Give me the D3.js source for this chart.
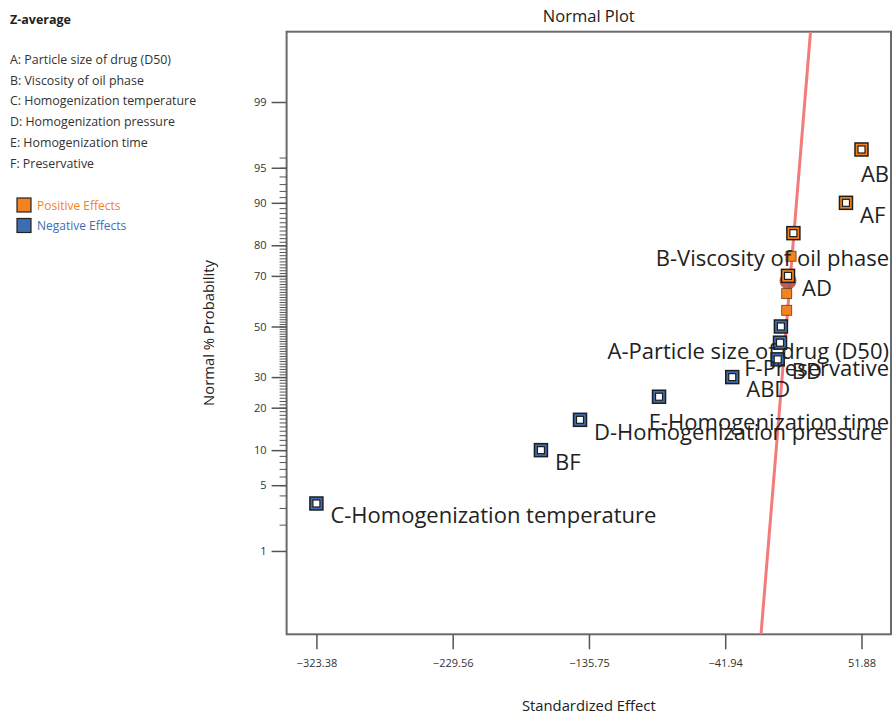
<!DOCTYPE html>
<html>
<head>
<meta charset="utf-8">
<script src="https://cdn.jsdelivr.net/npm/d3@7"></script>
<style>
  body { margin: 0; background: #fff; }
  text { font-family: "Open Sans", "Noto Sans", sans-serif; }
</style>
</head>
<body>
<script>
// effect terms, sorted by standardized effect
const termLabels = ['C-Homogenization temperature', 'BF', 'D-Homogenization pressure', 'E-Homogenization time',
  'ABD', 'BD', 'F-Preservative', 'A-Particle size of drug (D50)', '', '', 'AD', '', 'B-Viscosity of oil phase', 'AF', 'AB'];
const effects = [-323.38, -168.8, -141.9, -87.5, -37.1, -5.8, -4.2, -3.6, 0.4, 0.4, 1.3, 3.4, 5.0, 41.2, 51.88];
const probs = [3.33, 10, 16.67, 23.33, 30, 36.67, 43.33, 50, 56.67, 63.33, 70, 76.67, 83.33, 90, 96.67];
const highlightTerm = 'AD';

const xTicks = [-323.38, -229.56, -135.75, -41.94, 51.88];
const yTicks = [1, 5, 10, 20, 30, 50, 70, 80, 90, 95, 99];

// normal line: effect = fitIntercept + fitSlope * z
const fitIntercept = 0.12;
const fitSlope = 5.46;

const responseName = 'Z-average';
const factors = ['A: Particle size of drug (D50)', 'B: Viscosity of oil phase', 'C: Homogenization temperature',
  'D: Homogenization pressure', 'E: Homogenization time', 'F: Preservative'];
const legendItems = ['Positive Effects', 'Negative Effects'];

const w = 892, h = 714;
const plot = { left: 286.6, right: 891, top: 31.7, bottom: 634.3 };
const orange = '#f5821f', blue = '#3f6db4';

// inverse normal cdf (Acklam)
function probit(p) {
  const a = [-39.69683028665376, 220.9460984245205, -275.9285104469687, 138.3577518672690, -30.66479806614716, 2.506628277459239];
  const b = [-54.47609879822406, 161.5858368580409, -155.6989798598866, 66.80131188771972, -13.28068155288572];
  const c = [-0.007784894002430293, -0.3223964580411365, -2.400758277161838, -2.549732539343734, 4.374664141464968, 2.938163982698783];
  const d = [0.007784695709041462, 0.3224671290700398, 2.445134137142996, 3.754408661907416];
  const pl = 0.02425;
  let q, r;
  if (p < pl) {
    q = Math.sqrt(-2 * Math.log(p));
    return (((((c[0]*q+c[1])*q+c[2])*q+c[3])*q+c[4])*q+c[5]) / ((((d[0]*q+d[1])*q+d[2])*q+d[3])*q+1);
  } else if (p <= 1 - pl) {
    q = p - 0.5; r = q * q;
    return (((((a[0]*r+a[1])*r+a[2])*r+a[3])*r+a[4])*r+a[5])*q / (((((b[0]*r+b[1])*r+b[2])*r+b[3])*r+b[4])*r+1);
  } else {
    q = Math.sqrt(-2 * Math.log(1 - p));
    return -(((((c[0]*q+c[1])*q+c[2])*q+c[3])*q+c[4])*q+c[5]) / ((((d[0]*q+d[1])*q+d[2])*q+d[3])*q+1);
  }
}

const x = d3.scaleLinear().domain([-343.9, 72.2]).range([plot.left, plot.right]);
const yZ = d3.scaleLinear().domain([-3.19, 3.055]).range([plot.bottom, plot.top]);
const yP = p => yZ(probit(p / 100));

const svg = d3.select('body').append('svg')
  .attr('width', w)
  .attr('height', h);

// side panel
svg.append('text')
  .attr('x', 10).attr('y', 24)
  .attr('font-size', '12.5px').attr('font-weight', 'bold').attr('fill', '#222')
  .text(responseName);

svg.selectAll('.factor')
  .data(factors)
  .enter()
  .append('text')
  .attr('class', 'factor')
  .attr('x', 10)
  .attr('y', (_, i) => 64 + i * 20.7)
  .attr('font-size', '12.4px')
  .attr('fill', '#333')
  .text(d => d);

const leg = svg.selectAll('.leg')
  .data(legendItems)
  .enter()
  .append('g')
  .attr('class', 'leg')
  .attr('transform', (_, i) => `translate(17, ${198 + i * 20.5})`);
leg.append('rect')
  .attr('width', 14).attr('height', 14)
  .attr('fill', (_, i) => i === 0 ? orange : blue)
  .attr('stroke', '#222').attr('stroke-width', 1.2);
leg.append('text')
  .attr('x', 20).attr('y', 11.5)
  .attr('font-size', '12px')
  .attr('fill', (_, i) => i === 0 ? orange : blue)
  .text(d => d);

// title
svg.append('text')
  .attr('x', (plot.left + plot.right) / 2).attr('y', 22)
  .attr('text-anchor', 'middle')
  .attr('font-size', '16.5px').attr('fill', '#222')
  .text('Normal Plot');

// plot frame
svg.append('rect')
  .attr('x', plot.left).attr('y', plot.top)
  .attr('width', plot.right - plot.left).attr('height', plot.bottom - plot.top)
  .attr('fill', 'none').attr('stroke', '#6a6a6a').attr('stroke-width', 2);

// x axis
const xAxis = d3.axisBottom(x)
  .tickValues(xTicks)
  .tickFormat(d3.format('.2f'))
  .tickSize(15)
  .tickPadding(10);
const gx = svg.append('g')
  .attr('transform', `translate(0, ${plot.bottom})`)
  .call(xAxis);
gx.select('.domain').remove();
gx.selectAll('line').attr('stroke', '#555').attr('stroke-width', 1.5);
gx.selectAll('text').attr('font-size', '11px').attr('fill', '#333');

// y axis (normal probability)
const gyMinor = svg.append('g')
  .attr('transform', `translate(${plot.left}, 0)`)
  .call(d3.axisLeft(yZ)
    .tickValues(d3.range(2, 97).map(p => probit(p / 100)))
    .tickFormat('')
    .tickSize(7));
gyMinor.select('.domain').remove();
gyMinor.selectAll('line').attr('stroke', '#555').attr('stroke-width', 1);

const gy = svg.append('g')
  .attr('transform', `translate(${plot.left}, 0)`)
  .call(d3.axisLeft(yZ)
    .tickValues(yTicks.map(p => probit(p / 100)))
    .tickFormat((_, i) => yTicks[i])
    .tickSize(15)
    .tickPadding(5));
gy.select('.domain').remove();
gy.selectAll('line').attr('stroke', '#555').attr('stroke-width', 1.5);
gy.selectAll('text').attr('font-size', '11px').attr('fill', '#333');

// axis titles
svg.append('text')
  .attr('x', (plot.left + plot.right) / 2).attr('y', 711)
  .attr('text-anchor', 'middle')
  .attr('font-size', '14.8px').attr('fill', '#222')
  .text('Standardized Effect');
svg.append('text')
  .attr('transform', `translate(214, ${(plot.top + plot.bottom) / 2}) rotate(-90)`)
  .attr('text-anchor', 'middle')
  .attr('font-size', '14.8px').attr('fill', '#222')
  .text('Normal % Probability');

// clip for plot contents
svg.append('clipPath').attr('id', 'clip')
  .append('rect')
  .attr('x', plot.left).attr('y', plot.top)
  .attr('width', plot.right - plot.left).attr('height', plot.bottom - plot.top);

const zEnds = yZ.domain();
svg.append('path')
  .attr('clip-path', 'url(#clip)')
  .datum(zEnds)
  .attr('d', d3.line()
    .x(z => x(fitIntercept + fitSlope * z))
    .y(z => yZ(z)))
  .attr('stroke', '#f37b7b').attr('stroke-width', 3).attr('fill', 'none');

const pts = effects.map((e, i) => ({ effect: e, prob: probs[i], label: termLabels[i] }));

// highlight circle
pts.filter(d => d.label === highlightTerm).forEach(d => {
  svg.append('circle')
    .attr('cx', x(d.effect)).attr('cy', yP(d.prob) + 5)
    .attr('r', 8.5)
    .attr('fill', '#b4504c').attr('opacity', 0.9);
});

const g = svg.append('g');
pts.forEach(d => {
  const cx = x(d.effect), cy = yP(d.prob);
  const col = d.effect >= 0 ? orange : blue;
  if (d.label) {
    g.append('rect')
      .attr('x', cx - 6.5).attr('y', cy - 6.5).attr('width', 13).attr('height', 13)
      .attr('fill', col).attr('stroke', '#1e1e1e').attr('stroke-width', 1.5);
    g.append('rect')
      .attr('x', cx - 3.5).attr('y', cy - 3.5).attr('width', 7).attr('height', 7)
      .attr('fill', '#fff').attr('stroke', '#1e1e1e').attr('stroke-width', 1.2);
  } else {
    g.append('rect')
      .attr('x', cx - 5).attr('y', cy - 5).attr('width', 10).attr('height', 10)
      .attr('fill', col).attr('stroke', '#6b3d12').attr('stroke-width', 0.8);
  }
});

// point labels: right of the point, pushed left and down when they would run past the frame
pts.filter(d => d.label).forEach(d => {
  const cx = x(d.effect), cy = yP(d.prob);
  const t = svg.append('text')
    .attr('font-size', '22px').attr('fill', '#222')
    .text(d.label);
  const tw = t.node().getComputedTextLength();
  let tx = cx + 14, ty = cy + 20;
  if (tx + tw > plot.right) {
    tx = plot.right - tw - 2;
    ty = cy + 33;
  }
  t.attr('x', tx).attr('y', ty);
});
</script>
</body>
</html>
